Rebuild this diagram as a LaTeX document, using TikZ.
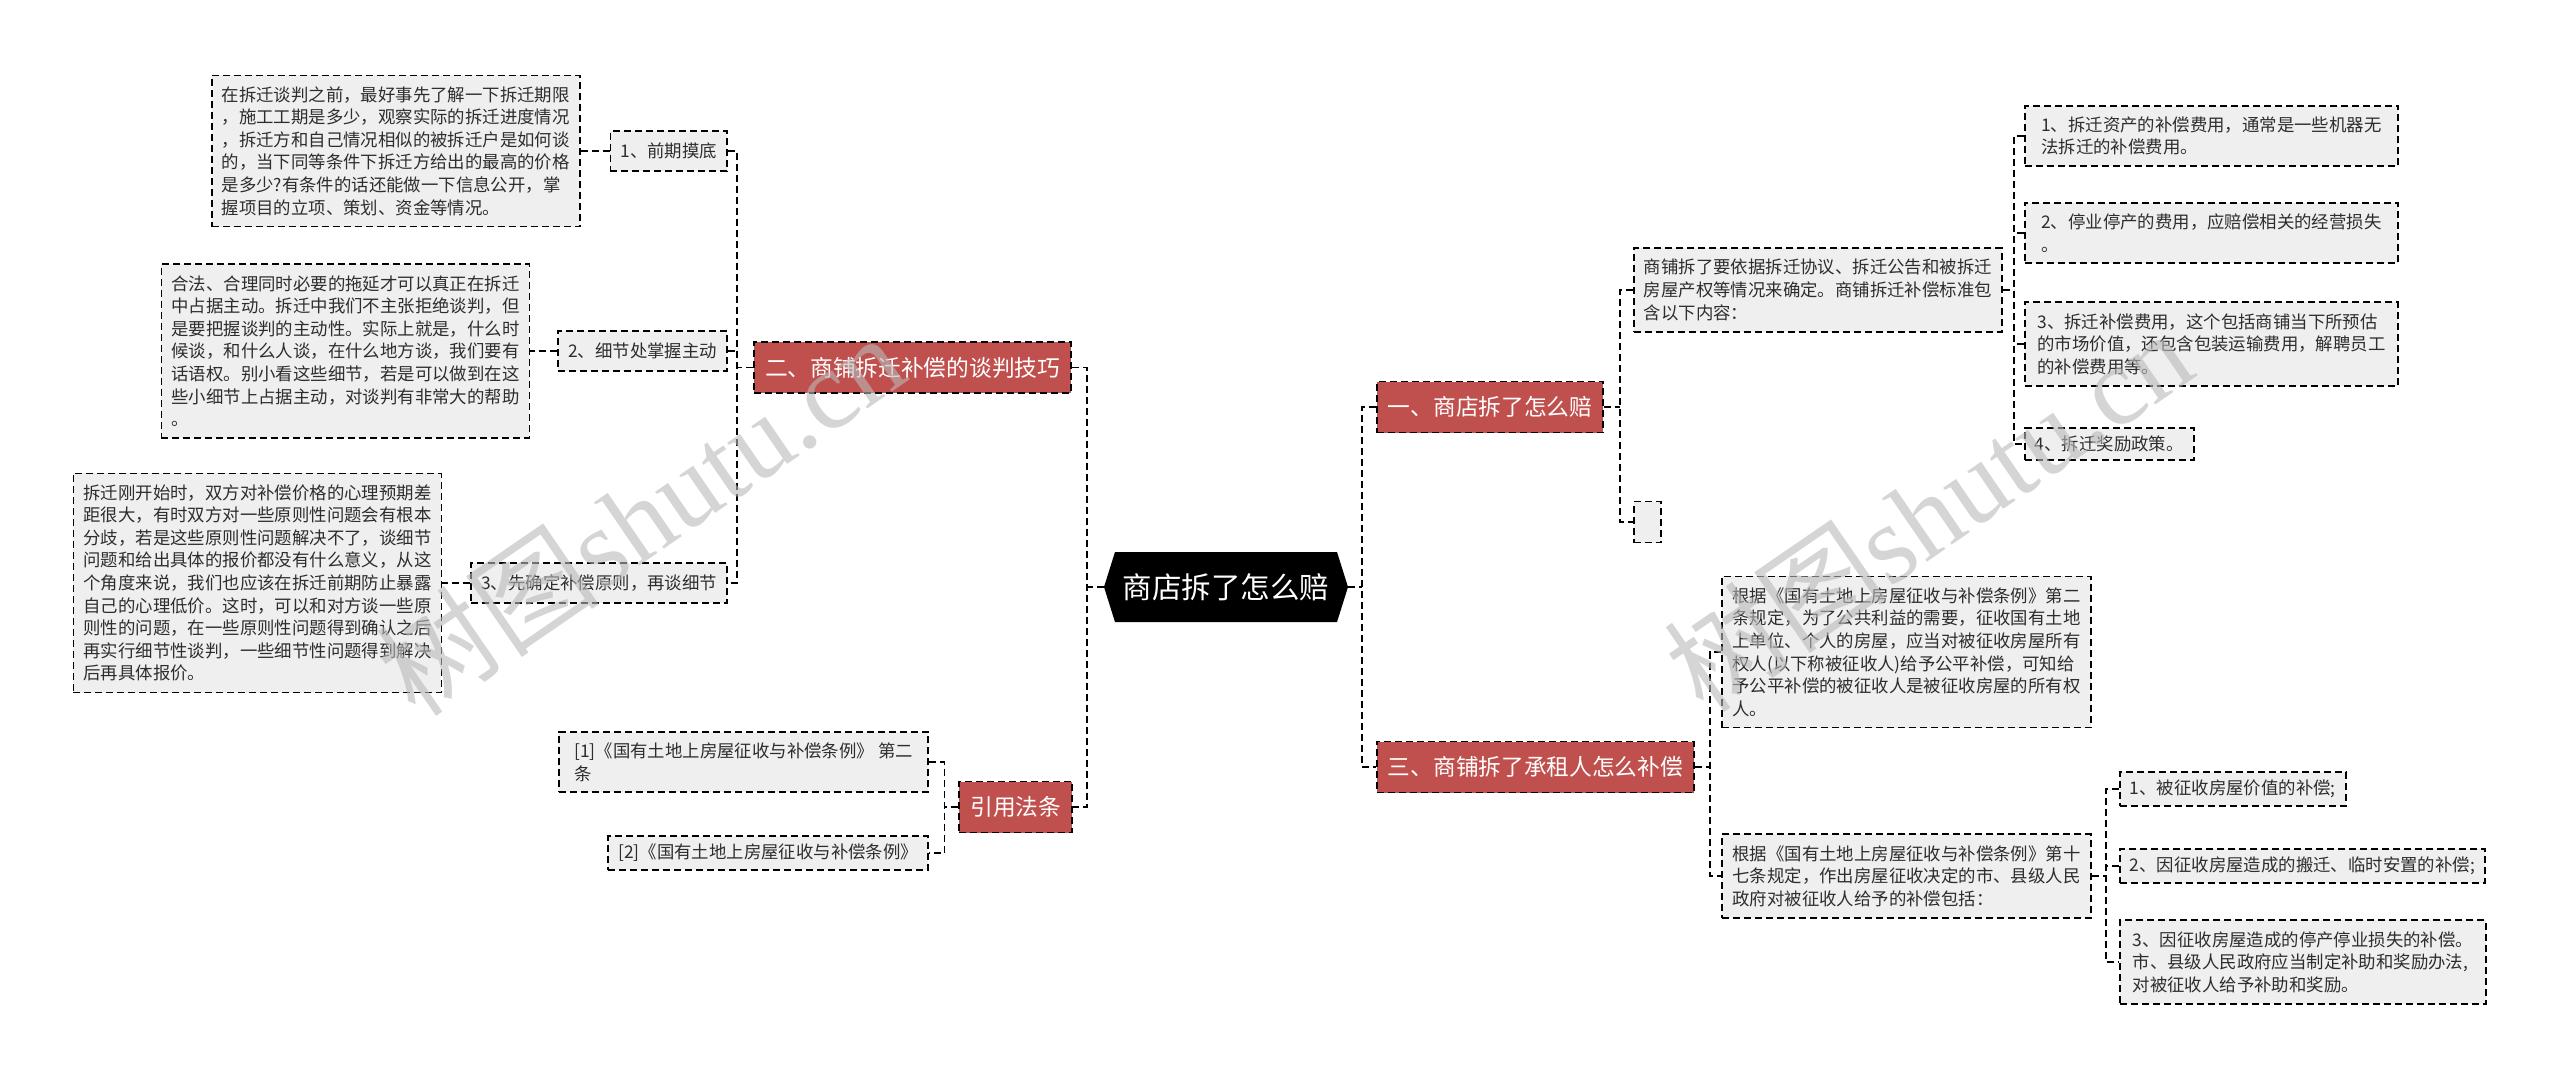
\documentclass[tikz,border=0pt]{standalone}
\usepackage{fontspec}
\setmainfont{Noto Sans CJK SC}
\newfontfamily\wmserif{Liberation Serif}
\usetikzlibrary{calc}

\definecolor{redbox}{RGB}{192,80,77}
\definecolor{graybox}{RGB}{239,239,239}
\definecolor{txt}{RGB}{45,45,45}
\definecolor{wmgray}{RGB}{185,185,185}

\tikzset{
  dashln/.style={line width=1.8pt, dash pattern=on 7pt off 4pt},
  conn/.style={dashln, draw=black},
  tbox/.style={dashln, draw=black, fill=graybox, text=txt, align=left,
    inner xsep=10pt, inner ysep=11pt, font=\fontsize{17.4}{22.6}\selectfont},
  lvlbox/.style={tbox, inner xsep=10pt, inner ysep=4pt, minimum height=40pt},
  mainbox/.style={dashln, draw=black, fill=redbox, text=white, inner xsep=11pt,
    minimum height=51pt, font=\fontsize{22.7}{27}\selectfont},
  rootbox/.style={minimum width=244pt, minimum height=70pt, inner sep=0pt, fill=white,
    text=white, font=\fontsize{29.5}{32}\selectfont,
    path picture={\fill[black]
      ([xshift=11pt]path picture bounding box.north west) --
      ([xshift=-11pt]path picture bounding box.north east) --
      (path picture bounding box.east) --
      ([xshift=-11pt]path picture bounding box.south east) --
      ([xshift=11pt]path picture bounding box.south west) --
      (path picture bounding box.west) -- cycle;}},
  wmark/.style={text=wmgray, opacity=0.6, rotate=34.5, inner sep=0pt,
    font=\fontsize{112}{120}\selectfont},
}

\begin{document}
\begin{tikzpicture}[x=1pt,y=-1pt]
\fill[white] (0,0) rectangle (2560,1083);
\path[use as bounding box] (0,0) rectangle (2560,1083);

% root
\node[rootbox] (root) at (1226,587) {商店拆了怎么赔};

% ---------- left side ----------
\node[mainbox, anchor=east] (m2) at (1072,367.5) {二、商铺拆迁补偿的谈判技巧};
\node[mainbox, anchor=east] (m4) at (1073,807) {引用法条};

\node[lvlbox, anchor=east] (l1) at (728,151) {1、前期摸底};
\node[lvlbox, anchor=east] (l2) at (728,351) {2、细节处掌握主动};
\node[lvlbox, anchor=east] (l3) at (728,583) {3、先确定补偿原则，再谈细节};

\node[tbox, anchor=east] (t1) at ([xshift=-29pt]l1.west) {在拆迁谈判之前，最好事先了解一下拆迁期限\\，施工工期是多少，观察实际的拆迁进度情况\\，拆迁方和自己情况相似的被拆迁户是如何谈\\的，当下同等条件下拆迁方给出的最高的价格\\是多少?有条件的话还能做一下信息公开，掌\\握项目的立项、策划、资金等情况。};
\node[tbox, anchor=east] (t2) at ([xshift=-27pt]l2.west) {合法、合理同时必要的拖延才可以真正在拆迁\\中占据主动。拆迁中我们不主张拒绝谈判，但\\是要把握谈判的主动性。实际上就是，什么时\\候谈，和什么人谈，在什么地方谈，我们要有\\话语权。别小看这些细节，若是可以做到在这\\些小细节上占据主动，对谈判有非常大的帮助\\。};
\node[tbox, anchor=east] (t3) at ([xshift=-28pt]l3.west) {拆迁刚开始时，双方对补偿价格的心理预期差\\距很大，有时双方对一些原则性问题会有根本\\分歧，若是这些原则性问题解决不了，谈细节\\问题和给出具体的报价都没有什么意义，从这\\个角度来说，我们也应该在拆迁前期防止暴露\\自己的心理低价。这时，可以和对方谈一些原\\则性的问题，在一些原则性问题得到确认之后\\再实行细节性谈判，一些细节性问题得到解决\\后再具体报价。};

\node[tbox, anchor=east, minimum width=369pt] (r1) at (929,762) {[1]《国有土地上房屋征收与补偿条例》 第二\\条};
\node[tbox, anchor=east, inner ysep=8pt] (r2) at (929,853) {[2]《国有土地上房屋征收与补偿条例》};

% ---------- right side ----------
\node[mainbox, anchor=west] (m1) at (1376,407) {一、商店拆了怎么赔};
\node[mainbox, anchor=west] (m3) at (1376,767) {三、商铺拆了承租人怎么补偿};

\node[tbox, anchor=west] (s1) at (1633,290) {商铺拆了要依据拆迁协议、拆迁公告和被拆迁\\房屋产权等情况来确定。商铺拆迁补偿标准包\\含以下内容：};
\node[tbox, anchor=west, minimum width=27pt, minimum height=41pt, inner sep=0pt] (s2) at (1633,522) {};

\node[tbox, anchor=west, minimum width=373pt] (a1) at (2024,136) {1、拆迁资产的补偿费用，通常是一些机器无\\法拆迁的补偿费用。};
\node[tbox, anchor=west, minimum width=373pt] (a2) at (2024,233) {2、停业停产的费用，应赔偿相关的经营损失\\。};
\node[tbox, anchor=west, minimum width=373pt] (a3) at (2024,344) {3、拆迁补偿费用，这个包括商铺当下所预估\\的市场价值，还包含包装运输费用，解聘员工\\的补偿费用等。};
\node[tbox, anchor=west, inner ysep=8pt] (a4) at (2024,444) {4、拆迁奖励政策。};

\node[tbox, anchor=west, minimum width=369pt] (b1) at (1721,652) {根据《国有土地上房屋征收与补偿条例》第二\\条规定，为了公共利益的需要，征收国有土地\\上单位、个人的房屋，应当对被征收房屋所有\\权人(以下称被征收人)给予公平补偿，可知给\\予公平补偿的被征收人是被征收房屋的所有权\\人。};
\node[tbox, anchor=west, minimum width=369pt] (b2) at (1721,876) {根据《国有土地上房屋征收与补偿条例》第十\\七条规定，作出房屋征收决定的市、县级人民\\政府对被征收人给予的补偿包括：};

\node[tbox, anchor=west, inner ysep=8pt] (c1) at (2119,789) {1、被征收房屋价值的补偿;};
\node[tbox, anchor=west, inner ysep=8pt, minimum width=363pt] (c2) at (2119,866) {2、因征收房屋造成的搬迁、临时安置的补偿;};
\node[tbox, anchor=west, minimum width=366pt] (c3) at (2119,962) {3、因征收房屋造成的停产停业损失的补偿。\\市、县级人民政府应当制定补助和奖励办法,\\对被征收人给予补助和奖励。};

% ---------- junction coordinates ----------
\path (root.west) ++(-17,0) coordinate (lsp);
\path (root.east) ++(14,0) coordinate (rsp);
\path (m2.west) ++(-16,0) coordinate (j2);
\path (m4.west) ++(-14,0) coordinate (j4);
\path (m1.east) ++(16,0) coordinate (j1);
\path (s1.east) ++(11,0) coordinate (js1);
\path (m3.east) ++(15,0) coordinate (j3);
\path (b2.east) ++(14,0) coordinate (jb2);

% ---------- connectors ----------
\draw[conn] (root.west) -- (lsp);
\draw[conn] (m2.east) -| (lsp |- m4.east) -- (m4.east);

\draw[conn] (m2.west) -- (j2);
\draw[conn] (l1.east) -| (j2 |- l3.east) -- (l3.east);
\draw[conn] (l2.east) -- (l2.east -| j2);
\draw[conn] (l1.west) -- (t1.east);
\draw[conn] (l2.west) -- (t2.east);
\draw[conn] (l3.west) -- (t3.east);

\draw[conn] (m4.west) -- (j4);
\draw[conn] (r1.east) -| (j4 |- r2.east) -- (r2.east);

\draw[conn] (root.east) -- (rsp);
\draw[conn] (m1.west) -| (rsp |- m3.west) -- (m3.west);

\draw[conn] (m1.east) -- (j1);
\draw[conn] (s1.west) -| (j1 |- s2.west) -- (s2.west);

\draw[conn] (s1.east) -- (js1);
\draw[conn] (a1.west) -| (js1 |- a4.west) -- (a4.west);
\draw[conn] (a2.west) -- (a2.west -| js1);
\draw[conn] (a3.west) -- (a3.west -| js1);

\draw[conn] (m3.east) -- (j3);
\draw[conn] (b1.west) -| (j3 |- b2.west) -- (b2.west);

\draw[conn] (b2.east) -- (jb2);
\draw[conn] (c1.west) -| (jb2 |- c3.west) -- (c3.west);
\draw[conn] (c2.west) -- (c2.west -| jb2);

% ---------- watermarks ----------
\node[wmark] (wm1) at (640,514) {树图{\wmserif shutu.cn}};
\node[wmark] (wm2) at (1928,510) {树图{\wmserif shutu.cn}};
\end{tikzpicture}
\end{document}
